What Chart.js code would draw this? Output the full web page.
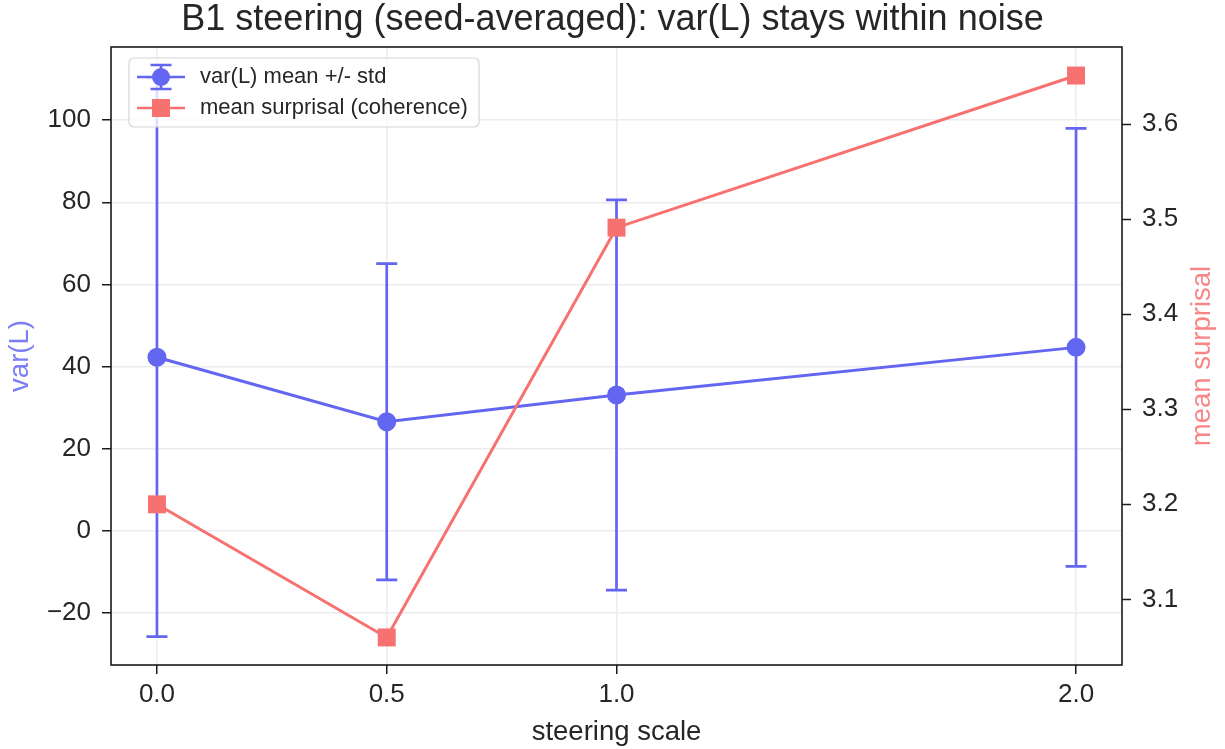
<!DOCTYPE html>
<html>
<head>
<meta charset="utf-8">
<script src="https://cdn.jsdelivr.net/npm/chart.js@4/dist/chart.umd.min.js"></script>
<style>
  html, body { margin: 0; padding: 0; background: #fff; }
  #wrap { width: 1225px; height: 749px; }
</style>
</head>
<body>
<div id="wrap"><canvas id="chart" width="1225" height="749"></canvas></div>
<script>
// data
const steeringScale = [0.0, 0.5, 1.0, 2.0];
const varMean = [42.3, 26.6, 33.1, 44.7];
const varStd = [68.0, 38.5, 47.5, 53.3];
const surprisal = [3.200, 3.060, 3.491, 3.651];
const leftTicks = [-20, 0, 20, 40, 60, 80, 100];
const rightTicks = [3.1, 3.2, 3.3, 3.4, 3.5, 3.6];

const BLUE = '#6366f1';
const RED = '#f87171';
const TEXT = '#262626';
const GRID = '#ebebf0';
const FONT = '"Liberation Sans", Arial, Helvetica, sans-serif';

function fmtMinus(v) {
  return v < 0 ? '\u2212' + Math.abs(v) : String(v);
}

// vertical error bars with caps, drawn under the lines
const errorBars = {
  id: 'errorBars',
  beforeDatasetsDraw(chart) {
    const ds = chart.data.datasets[0];
    const xs = chart.scales.x, ys = chart.scales.y;
    const ctx = chart.ctx;
    ctx.save();
    ctx.strokeStyle = BLUE;
    ctx.lineWidth = 2.7;
    ds.data.forEach((p, i) => {
      const sd = ds.errors[i];
      const x = xs.getPixelForValue(p.x);
      const y0 = ys.getPixelForValue(p.y - sd);
      const y1 = ys.getPixelForValue(p.y + sd);
      ctx.beginPath();
      ctx.moveTo(x, y0); ctx.lineTo(x, y1);
      ctx.moveTo(x - 10.5, y0); ctx.lineTo(x + 10.5, y0);
      ctx.moveTo(x - 10.5, y1); ctx.lineTo(x + 10.5, y1);
      ctx.stroke();
    });
    ctx.restore();
  }
};

// frame, right axis title and matplotlib-like legend
const decorations = {
  id: 'decorations',
  afterDraw(chart) {
    const ctx = chart.ctx;
    const a = chart.chartArea;
    ctx.save();
    ctx.strokeStyle = '#1a1a1a';
    ctx.lineWidth = 1.6;
    ctx.strokeRect(a.left, a.top, a.right - a.left, a.bottom - a.top);

    // right axis title, reading bottom to top
    ctx.translate(1202, (a.top + a.bottom) / 2);
    ctx.rotate(-Math.PI / 2);
    ctx.fillStyle = 'rgba(248,113,113,0.85)';
    ctx.font = '27.5px ' + FONT;
    ctx.textAlign = 'center';
    ctx.textBaseline = 'middle';
    ctx.fillText('mean surprisal', 0, 0);
    ctx.restore();

    // legend
    const ds = chart.data.datasets;
    ctx.save();
    const bx = 129, by = 58, bw = 350, bh = 69;
    ctx.beginPath();
    ctx.roundRect(bx, by, bw, bh, 5);
    ctx.fillStyle = 'rgba(255,255,255,0.8)';
    ctx.fill();
    ctx.strokeStyle = '#d6d6d6';
    ctx.lineWidth = 1.2;
    ctx.stroke();

    const hx = 161;
    const rows = [77, 108];
    // row 1: error bar handle
    ctx.strokeStyle = BLUE;
    ctx.lineWidth = 2.7;
    ctx.beginPath();
    ctx.moveTo(137, rows[0]); ctx.lineTo(185, rows[0]);
    ctx.moveTo(hx, rows[0] - 12); ctx.lineTo(hx, rows[0] + 12);
    ctx.moveTo(hx - 10.5, rows[0] - 12); ctx.lineTo(hx + 10.5, rows[0] - 12);
    ctx.moveTo(hx - 10.5, rows[0] + 12); ctx.lineTo(hx + 10.5, rows[0] + 12);
    ctx.stroke();
    ctx.fillStyle = BLUE;
    ctx.beginPath();
    ctx.arc(hx, rows[0], 9, 0, Math.PI * 2);
    ctx.fill();
    // row 2: line + square
    ctx.strokeStyle = RED;
    ctx.beginPath();
    ctx.moveTo(137, rows[1]); ctx.lineTo(185, rows[1]);
    ctx.stroke();
    ctx.fillStyle = RED;
    ctx.fillRect(hx - 9, rows[1] - 9, 18, 18);

    ctx.fillStyle = TEXT;
    ctx.font = '22px ' + FONT;
    ctx.textAlign = 'left';
    ctx.textBaseline = 'middle';
    ctx.fillText(ds[0].label, 200, rows[0]);
    ctx.fillText(ds[1].label, 200, rows[1]);
    ctx.restore();
  }
};

const ctx = document.getElementById('chart');
new Chart(ctx, {
  type: 'line',
  data: {
    datasets: [
      {
        label: 'var(L) mean +/- std',
        data: steeringScale.map((x, i) => ({ x: x, y: varMean[i] })),
        errors: varStd,
        yAxisID: 'y',
        borderColor: BLUE,
        backgroundColor: BLUE,
        borderWidth: 3,
        pointStyle: 'circle',
        pointRadius: 9.5,
        pointBorderWidth: 0,
        tension: 0,
        order: 1,
      },
      {
        label: 'mean surprisal (coherence)',
        data: steeringScale.map((x, i) => ({ x: x, y: surprisal[i] })),
        yAxisID: 'y1',
        borderColor: RED,
        backgroundColor: RED,
        borderWidth: 3,
        pointStyle: 'rect',
        pointRadius: 12.7,
        pointBorderWidth: 0,
        tension: 0,
        order: 0,
      },
    ],
  },
  options: {
    responsive: false,
    animation: false,
    layout: { padding: 0 },
    plugins: {
      legend: { display: false },
      tooltip: { enabled: false },
      title: {
        display: true,
        text: 'B1 steering (seed-averaged): var(L) stays within noise',
        color: TEXT,
        font: { family: FONT, size: 36, weight: 'normal', lineHeight: 1.0 },
        padding: { top: 2.5, bottom: 8.5 },
      },
    },
    scales: {
      x: {
        type: 'linear',
        min: -0.1,
        max: 2.1,
        afterBuildTicks: s => { s.ticks = steeringScale.map(v => ({ value: v })); },
        afterFit: s => { s.height = 84; },
        ticks: { color: TEXT, font: { family: FONT, size: 26 }, padding: 5, callback: v => v.toFixed(1) },
        grid: { color: GRID, lineWidth: 1.5, tickLength: 9, tickColor: '#1a1a1a', tickWidth: 1.5 },
        border: { display: false },
        title: { display: true, text: 'steering scale', color: TEXT, font: { family: FONT, size: 27.5 }, padding: { bottom: 0.5 } },
      },
      y: {
        type: 'linear',
        position: 'left',
        min: -32.6,
        max: 117.8,
        afterBuildTicks: s => { s.ticks = leftTicks.map(v => ({ value: v })); },
        afterFit: s => { s.width = 111; },
        ticks: { color: TEXT, font: { family: FONT, size: 26 }, padding: 11, callback: v => fmtMinus(v) },
        grid: { color: GRID, lineWidth: 1.5, tickLength: 9, tickColor: '#1a1a1a', tickWidth: 1.5 },
        border: { display: false },
        title: { display: true, text: 'var(L)', color: 'rgba(99,102,241,0.85)', font: { family: FONT, size: 27.5 }, padding: { top: 3.5 } },
      },
      y1: {
        type: 'linear',
        position: 'right',
        min: 3.031,
        max: 3.681,
        afterBuildTicks: s => { s.ticks = rightTicks.map(v => ({ value: v })); },
        afterFit: s => { s.width = 103; },
        ticks: { color: TEXT, font: { family: FONT, size: 26 }, padding: 11, callback: v => v.toFixed(1) },
        grid: { drawOnChartArea: false, tickLength: 9, tickColor: '#1a1a1a', tickWidth: 1.5 },
        border: { display: false },
      },
    },
  },
  plugins: [errorBars, decorations],
});
</script>
</body>
</html>
